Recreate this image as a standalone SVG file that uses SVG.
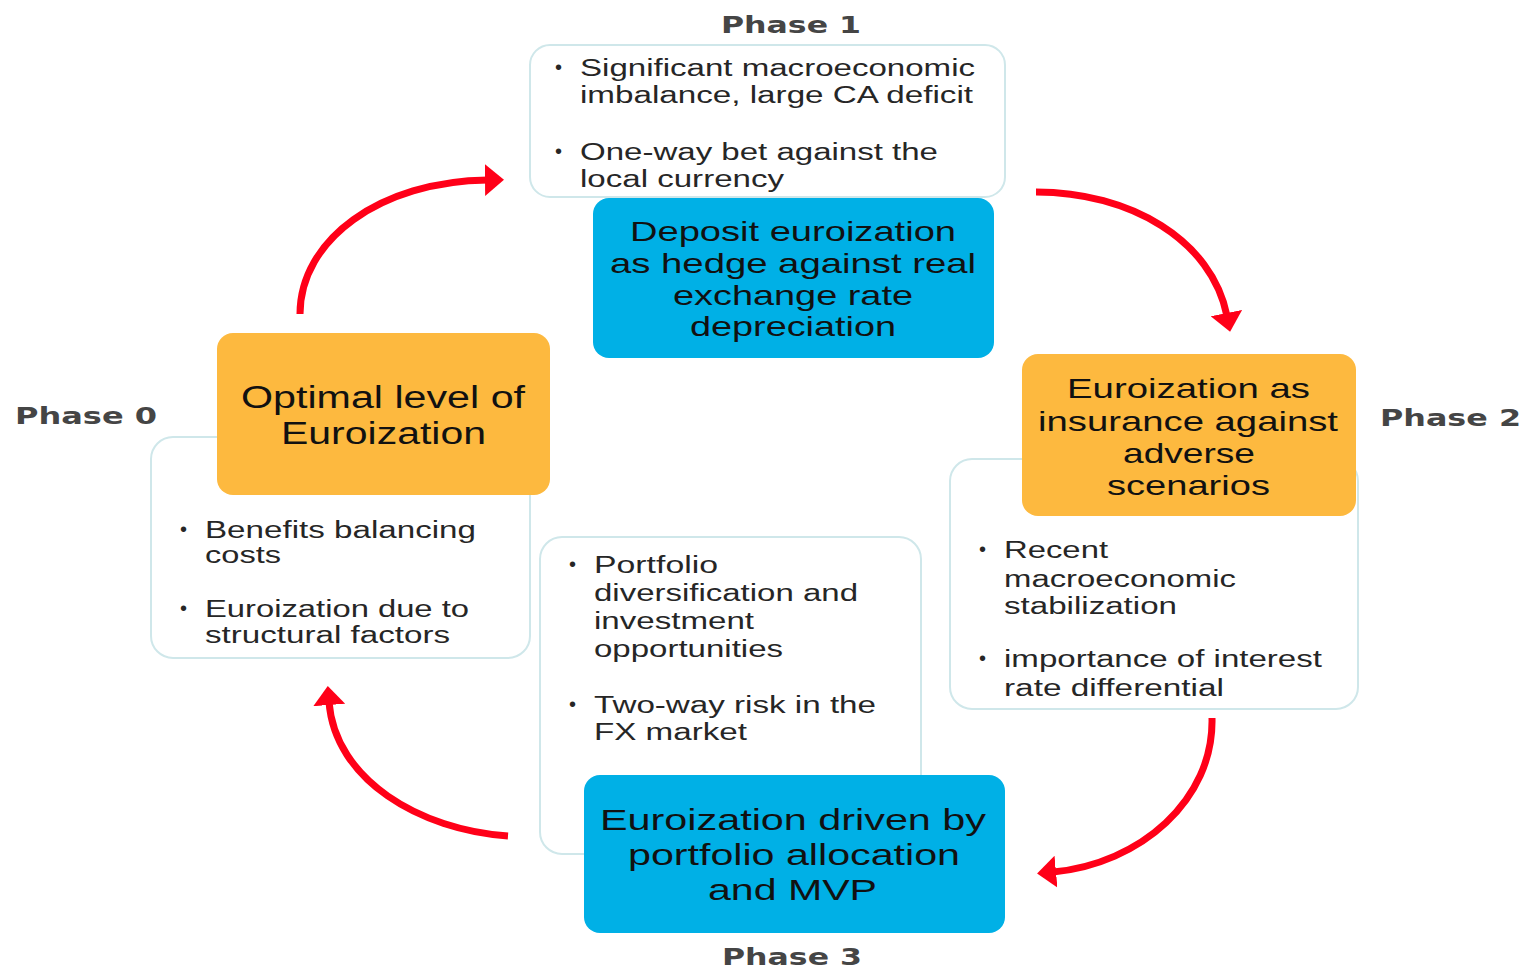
<svg xmlns="http://www.w3.org/2000/svg" width="1524" height="969" viewBox="0 0 1524 969">
<defs>
<style>
.wb{fill:#fff;stroke:#cfe7ea;stroke-width:2}
.ob{fill:#fdb93f}
.bb{fill:#00b0e6}
.t{font-family:"Liberation Sans",Arial,sans-serif;fill:#262626}
.bt{font-size:23px}
.big{font-size:28px;fill:#111;text-anchor:start}
.ph{font-family:"DejaVu Sans","Liberation Sans",sans-serif;font-weight:bold;font-size:23px;fill:#454545}
.bul{font-family:"Liberation Sans",Arial,sans-serif;font-size:20px;fill:#262626}
.arr{fill:none;stroke:#ff0018;stroke-width:7}
</style>
<marker id="ah" markerUnits="userSpaceOnUse" markerWidth="22" markerHeight="34" refX="3" refY="16" orient="auto" viewBox="0 0 22 34">
<path d="M0,0 L19,16 L0,32 z" fill="#ff0018"/>
</marker>
</defs>
<rect width="1524" height="969" fill="#fff"/>

<g id="connectors">
<path class="arr" d="M300,314 C300,240 380,181 488,180" marker-end="url(#ah)"/>
<path class="arr" d="M1036,192 C1130,192 1212,240 1227,316" marker-end="url(#ah)"/>
<path class="arr" d="M1212,718 C1214,800 1140,864 1053,872" marker-end="url(#ah)"/>
<path class="arr" d="M508,836 C420,830 335,780 329,702" marker-end="url(#ah)"/>
</g>

<g id="phase1">
<text class="ph" x="721" y="33" textLength="140" lengthAdjust="spacingAndGlyphs">Phase 1</text>
<rect class="wb" x="530" y="45" width="475" height="152" rx="20"/>
<text class="bul" x="555" y="74">•</text>
<text class="t bt" x="580" y="76" textLength="395" lengthAdjust="spacingAndGlyphs">Significant macroeconomic</text>
<text class="t bt" x="580" y="103" textLength="393" lengthAdjust="spacingAndGlyphs">imbalance, large CA deficit</text>
<text class="bul" x="555" y="158">•</text>
<text class="t bt" x="580" y="160" textLength="358" lengthAdjust="spacingAndGlyphs">One-way bet against the</text>
<text class="t bt" x="580" y="187" textLength="204" lengthAdjust="spacingAndGlyphs">local currency</text>
<rect class="bb" x="593" y="198" width="401" height="160" rx="16"/>
<text class="t big" x="630" y="241" textLength="326" lengthAdjust="spacingAndGlyphs">Deposit euroization</text>
<text class="t big" x="610" y="273" textLength="366" lengthAdjust="spacingAndGlyphs">as hedge against real</text>
<text class="t big" x="673" y="305" textLength="240" lengthAdjust="spacingAndGlyphs">exchange rate</text>
<text class="t big" x="690" y="336" textLength="206" lengthAdjust="spacingAndGlyphs">depreciation</text>
</g>

<g id="phase0">
<text class="ph" x="15" y="424" textLength="142" lengthAdjust="spacingAndGlyphs">Phase 0</text>
<rect class="wb" x="151" y="437" width="379" height="221" rx="22"/>
<rect class="ob" x="217" y="333" width="333" height="162" rx="16"/>
<text class="t big" x="241" y="408" style="font-size:31px" textLength="284" lengthAdjust="spacingAndGlyphs">Optimal level of</text>
<text class="t big" x="281" y="444" style="font-size:31px" textLength="205" lengthAdjust="spacingAndGlyphs">Euroization</text>
<text class="bul" x="180" y="536">•</text>
<text class="t bt" x="205" y="538" textLength="271" lengthAdjust="spacingAndGlyphs">Benefits balancing</text>
<text class="t bt" x="205" y="563" textLength="76" lengthAdjust="spacingAndGlyphs">costs</text>
<text class="bul" x="180" y="615">•</text>
<text class="t bt" x="205" y="617" textLength="264" lengthAdjust="spacingAndGlyphs">Euroization due to</text>
<text class="t bt" x="205" y="643" textLength="245" lengthAdjust="spacingAndGlyphs">structural factors</text>
</g>

<g id="phase2">
<text class="ph" x="1380" y="426" textLength="141" lengthAdjust="spacingAndGlyphs">Phase 2</text>
<rect class="wb" x="950" y="459" width="408" height="250" rx="22"/>
<rect class="ob" x="1022" y="354" width="334" height="162" rx="16"/>
<text class="t big" x="1067" y="398" textLength="243" lengthAdjust="spacingAndGlyphs">Euroization as</text>
<text class="t big" x="1038" y="431" textLength="300" lengthAdjust="spacingAndGlyphs">insurance against</text>
<text class="t big" x="1123" y="463" textLength="132" lengthAdjust="spacingAndGlyphs">adverse</text>
<text class="t big" x="1107" y="495" textLength="163" lengthAdjust="spacingAndGlyphs">scenarios</text>
<text class="bul" x="979" y="556">•</text>
<text class="t bt" x="1004" y="558" textLength="104" lengthAdjust="spacingAndGlyphs">Recent</text>
<text class="t bt" x="1004" y="587" textLength="232" lengthAdjust="spacingAndGlyphs">macroeconomic</text>
<text class="t bt" x="1004" y="614" textLength="173" lengthAdjust="spacingAndGlyphs">stabilization</text>
<text class="bul" x="979" y="665">•</text>
<text class="t bt" x="1004" y="667" textLength="318" lengthAdjust="spacingAndGlyphs">importance of interest</text>
<text class="t bt" x="1004" y="696" textLength="220" lengthAdjust="spacingAndGlyphs">rate differential</text>
</g>

<g id="phase3">
<rect class="wb" x="540" y="537" width="381" height="317" rx="22"/>
<text class="bul" x="569" y="571">•</text>
<text class="t bt" x="594" y="573" textLength="124" lengthAdjust="spacingAndGlyphs">Portfolio</text>
<text class="t bt" x="594" y="601" textLength="264" lengthAdjust="spacingAndGlyphs">diversification and</text>
<text class="t bt" x="594" y="629" textLength="160" lengthAdjust="spacingAndGlyphs">investment</text>
<text class="t bt" x="594" y="657" textLength="189" lengthAdjust="spacingAndGlyphs">opportunities</text>
<text class="bul" x="569" y="711">•</text>
<text class="t bt" x="594" y="713" textLength="282" lengthAdjust="spacingAndGlyphs">Two-way risk in the</text>
<text class="t bt" x="594" y="740" textLength="153" lengthAdjust="spacingAndGlyphs">FX market</text>
<rect class="bb" x="584" y="775" width="421" height="158" rx="16"/>
<text class="t big" x="600" y="830" style="font-size:30px" textLength="386" lengthAdjust="spacingAndGlyphs">Euroization driven by</text>
<text class="t big" x="628" y="865" style="font-size:30px" textLength="332" lengthAdjust="spacingAndGlyphs">portfolio allocation</text>
<text class="t big" x="708" y="900" style="font-size:30px" textLength="169" lengthAdjust="spacingAndGlyphs">and MVP</text>
<text class="ph" x="722" y="965" textLength="140" lengthAdjust="spacingAndGlyphs">Phase 3</text>
</g>
</svg>
